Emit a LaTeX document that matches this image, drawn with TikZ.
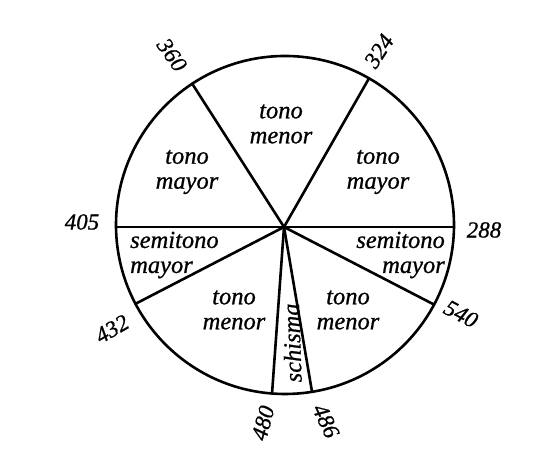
\documentclass[tikz,border=0pt]{standalone}
\usepackage{fontspec}
\setmainfont{Liberation Serif}
\newfontface\labfont{Liberation Serif Italic}[FakeBold=0.8]
\usetikzlibrary{calc}
\begin{document}
\begin{tikzpicture}[x=1pt,y=1pt,
  lab/.style={font=\fontsize{24.5}{25}\selectfont\labfont, align=center, inner sep=0pt},
  num/.style={font=\fontsize{23}{24}\selectfont\labfont, inner sep=0pt},
  spoke/.style={line width=2.6pt, line cap=round},
  rim/.style={line width=2.6pt}]
\useasboundingbox (0,0) rectangle (555,473);
\coordinate (O) at (285,248);
\coordinate (H) at (284,246);
\draw[rim] (O) circle (169);
\coordinate (p360) at ($(O)+(123.3:169)$);
\coordinate (p324) at ($(O)+(60.2:169)$);
\coordinate (p405) at (116,246);
\coordinate (p288) at (454,246);
\coordinate (p432) at ($(O)+(207.8:169)$);
\coordinate (p540) at ($(O)+(-28.1:169)$);
\coordinate (p480) at ($(O)+(265.6:169)$);
\coordinate (p486) at ($(O)+(279.2:169)$);
\foreach \p in {p360,p324,p405,p288,p432,p540,p480,p486}
  \draw[spoke] (H) -- (\p);
\node[lab] (a) at (281,349) {tono\\menor};
\node[lab] (b) at (187,301) {tono\\mayor};
\node[lab] (c) at (378,301) {tono\\mayor};
\node[lab, anchor=west, align=left] (d) at (130,218) {semitono\\mayor};
\node[lab, anchor=east, align=right] (e) at (445,218) {semitono\\mayor};
\node[lab] (f) at (234,163) {tono\\menor};
\node[lab] (g) at (348,163) {tono\\menor};
\node[lab, rotate=92] (h) at (292,130) {schisma};
\node[num, rotate=-55] (n360) at (172,418) {360};
\node[num, rotate=57] (n324) at (379,422) {324};
\node[num] (n405) at (82,251) {405};
\node[num] (n288) at (484,243) {288};
\node[num, rotate=30] (n432) at (112,144) {432};
\node[num, rotate=-28] (n540) at (461,159) {540};
\node[num, rotate=75] (n480) at (263,50) {480};
\node[num, rotate=-65] (n486) at (326,52) {486};
\end{tikzpicture}
\end{document}
